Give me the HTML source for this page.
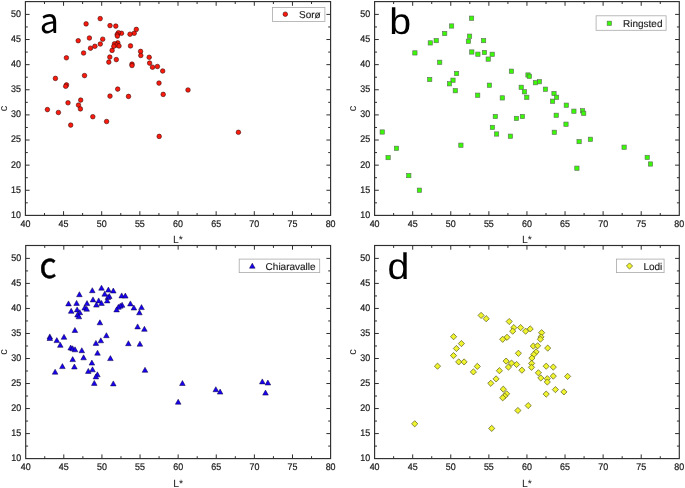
<!DOCTYPE html>
<html lang="en">
<head>
<meta charset="utf-8">
<title>L* versus c scatter plots: Sorø, Ringsted, Chiaravalle, Lodi</title>
<style>
html,body{margin:0;padding:0;background:#fff;}
body{width:685px;height:488px;overflow:hidden;}
svg{display:block;font-family:"Liberation Sans",sans-serif;will-change:transform;text-rendering:geometricPrecision;}
</style>
</head>
<body>
<svg width="685" height="488" viewBox="0 0 685 488">
<rect width="685" height="488" fill="#fff"/>
<rect x="25.4" y="1.6" width="305.2" height="213.8" fill="none" stroke="#2e2e2e" stroke-width="1.15"/>
<path d="M44.48 215.4v-2.4M44.48 1.6v2.4M63.55 215.4v-4.2M63.55 1.6v4.2M82.62 215.4v-2.4M82.62 1.6v2.4M101.7 215.4v-4.2M101.7 1.6v4.2M120.78 215.4v-2.4M120.78 1.6v2.4M139.85 215.4v-4.2M139.85 1.6v4.2M158.93 215.4v-2.4M158.93 1.6v2.4M178 215.4v-4.2M178 1.6v4.2M197.08 215.4v-2.4M197.08 1.6v2.4M216.15 215.4v-4.2M216.15 1.6v4.2M235.23 215.4v-2.4M235.23 1.6v2.4M254.3 215.4v-4.2M254.3 1.6v4.2M273.38 215.4v-2.4M273.38 1.6v2.4M292.45 215.4v-4.2M292.45 1.6v4.2M311.53 215.4v-2.4M311.53 1.6v2.4M25.4 202.84h2.4M330.6 202.84h-2.4M25.4 190.28h4.2M330.6 190.28h-4.2M25.4 177.71h2.4M330.6 177.71h-2.4M25.4 165.15h4.2M330.6 165.15h-4.2M25.4 152.59h2.4M330.6 152.59h-2.4M25.4 140.03h4.2M330.6 140.03h-4.2M25.4 127.46h2.4M330.6 127.46h-2.4M25.4 114.9h4.2M330.6 114.9h-4.2M25.4 102.34h2.4M330.6 102.34h-2.4M25.4 89.77h4.2M330.6 89.77h-4.2M25.4 77.21h2.4M330.6 77.21h-2.4M25.4 64.65h4.2M330.6 64.65h-4.2M25.4 52.09h2.4M330.6 52.09h-2.4M25.4 39.53h4.2M330.6 39.53h-4.2M25.4 26.96h2.4M330.6 26.96h-2.4M25.4 14.4h4.2M330.6 14.4h-4.2" stroke="#2e2e2e" stroke-width="1" fill="none"/>
<g font-size="9.6" fill="#1c1c1c" stroke="#1c1c1c" stroke-width="0.22">
<g text-anchor="middle">
<text transform="translate(25.4 227.2) scale(0.93 1)">40</text>
<text transform="translate(63.55 227.2) scale(0.93 1)">45</text>
<text transform="translate(101.7 227.2) scale(0.93 1)">50</text>
<text transform="translate(139.85 227.2) scale(0.93 1)">55</text>
<text transform="translate(178 227.2) scale(0.93 1)">60</text>
<text transform="translate(216.15 227.2) scale(0.93 1)">65</text>
<text transform="translate(254.3 227.2) scale(0.93 1)">70</text>
<text transform="translate(292.45 227.2) scale(0.93 1)">75</text>
<text transform="translate(330.6 227.2) scale(0.93 1)">80</text>
</g><g text-anchor="end">
<text transform="translate(20.9 217.8) scale(0.93 1)">10</text>
<text transform="translate(20.9 192.68) scale(0.93 1)">15</text>
<text transform="translate(20.9 167.55) scale(0.93 1)">20</text>
<text transform="translate(20.9 142.43) scale(0.93 1)">25</text>
<text transform="translate(20.9 117.3) scale(0.93 1)">30</text>
<text transform="translate(20.9 92.17) scale(0.93 1)">35</text>
<text transform="translate(20.9 67.05) scale(0.93 1)">40</text>
<text transform="translate(20.9 41.93) scale(0.93 1)">45</text>
<text transform="translate(20.9 16.8) scale(0.93 1)">50</text>
</g></g>
<text x="178" y="243.4" font-size="10.5" text-anchor="middle" fill="#1c1c1c">L*</text>
<text transform="translate(6.8 108.5) rotate(-90)" font-size="11" text-anchor="middle" fill="#1c1c1c">c</text>
<g fill="#fa1a0e" stroke="#330302" stroke-width="0.55"><circle cx="100.2" cy="18.6" r="2.3"/><circle cx="86.1" cy="23.9" r="2.3"/><circle cx="110" cy="25.6" r="2.3"/><circle cx="115.8" cy="26.1" r="2.3"/><circle cx="89.4" cy="38" r="2.3"/><circle cx="78.2" cy="40.7" r="2.3"/><circle cx="102.7" cy="39.2" r="2.3"/><circle cx="100.3" cy="44" r="2.3"/><circle cx="94.9" cy="46.3" r="2.3"/><circle cx="90.5" cy="48.2" r="2.3"/><circle cx="83.6" cy="53" r="2.3"/><circle cx="66.4" cy="57.8" r="2.3"/><circle cx="112.1" cy="50.4" r="2.3"/><circle cx="109.8" cy="57.1" r="2.3"/><circle cx="116.3" cy="59.6" r="2.3"/><circle cx="108.8" cy="62.1" r="2.3"/><circle cx="136.3" cy="29.4" r="2.3"/><circle cx="134.2" cy="33.3" r="2.3"/><circle cx="130" cy="34.2" r="2.3"/><circle cx="121.5" cy="33.3" r="2.3"/><circle cx="118.4" cy="32.7" r="2.3"/><circle cx="117.2" cy="34.6" r="2.3"/><circle cx="117.4" cy="36.1" r="2.3"/><circle cx="117.8" cy="42.9" r="2.3"/><circle cx="114.5" cy="43.8" r="2.3"/><circle cx="116.6" cy="45" r="2.3"/><circle cx="119" cy="46" r="2.3"/><circle cx="113.8" cy="46.3" r="2.3"/><circle cx="130.5" cy="45.9" r="2.3"/><circle cx="140.6" cy="51.4" r="2.3"/><circle cx="140.8" cy="55.5" r="2.3"/><circle cx="149.2" cy="57.3" r="2.3"/><circle cx="149.6" cy="63.1" r="2.3"/><circle cx="132" cy="64.1" r="2.3"/><circle cx="132" cy="65.5" r="2.3"/><circle cx="152.5" cy="67.2" r="2.3"/><circle cx="157.4" cy="66.5" r="2.3"/><circle cx="162.7" cy="71" r="2.3"/><circle cx="84.5" cy="75.6" r="2.3"/><circle cx="55.4" cy="78.4" r="2.3"/><circle cx="66.5" cy="84.9" r="2.3"/><circle cx="65.7" cy="86.3" r="2.3"/><circle cx="117.7" cy="89.1" r="2.3"/><circle cx="110" cy="96.1" r="2.3"/><circle cx="80.7" cy="100.1" r="2.3"/><circle cx="68" cy="102.8" r="2.3"/><circle cx="78.5" cy="105.1" r="2.3"/><circle cx="80.4" cy="108.9" r="2.3"/><circle cx="47.4" cy="109.6" r="2.3"/><circle cx="58.4" cy="112.5" r="2.3"/><circle cx="92.8" cy="116.7" r="2.3"/><circle cx="106.6" cy="121.5" r="2.3"/><circle cx="70.7" cy="125.1" r="2.3"/><circle cx="159" cy="83.1" r="2.3"/><circle cx="188" cy="90" r="2.3"/><circle cx="163.2" cy="94.4" r="2.3"/><circle cx="128.5" cy="96.4" r="2.3"/><circle cx="159.2" cy="136.4" r="2.3"/><circle cx="238.4" cy="132.3" r="2.3"/></g>
<rect x="272.4" y="7.4" width="52.5" height="14" fill="#fff" stroke="#a9a9a9" stroke-width="0.8"/>
<g fill="#fa1a0e" stroke="#330302" stroke-width="0.55"><circle cx="285.3" cy="14.2" r="2.3"/></g>
<text x="299" y="18.1" font-size="10" fill="#1c1c1c" stroke="#1c1c1c" stroke-width="0.15">Sorø</text>
<text x="39.7" y="33.4" font-size="34" font-family="'Noto Sans CJK SC','Liberation Sans',sans-serif" fill="#000">a</text>
<rect x="374.6" y="1.6" width="304.7" height="213.8" fill="none" stroke="#2e2e2e" stroke-width="1.15"/>
<path d="M393.64 215.4v-2.4M393.64 1.6v2.4M412.69 215.4v-4.2M412.69 1.6v4.2M431.73 215.4v-2.4M431.73 1.6v2.4M450.77 215.4v-4.2M450.77 1.6v4.2M469.82 215.4v-2.4M469.82 1.6v2.4M488.86 215.4v-4.2M488.86 1.6v4.2M507.91 215.4v-2.4M507.91 1.6v2.4M526.95 215.4v-4.2M526.95 1.6v4.2M545.99 215.4v-2.4M545.99 1.6v2.4M565.04 215.4v-4.2M565.04 1.6v4.2M584.08 215.4v-2.4M584.08 1.6v2.4M603.12 215.4v-4.2M603.12 1.6v4.2M622.17 215.4v-2.4M622.17 1.6v2.4M641.21 215.4v-4.2M641.21 1.6v4.2M660.26 215.4v-2.4M660.26 1.6v2.4M374.6 202.84h2.4M679.3 202.84h-2.4M374.6 190.28h4.2M679.3 190.28h-4.2M374.6 177.71h2.4M679.3 177.71h-2.4M374.6 165.15h4.2M679.3 165.15h-4.2M374.6 152.59h2.4M679.3 152.59h-2.4M374.6 140.03h4.2M679.3 140.03h-4.2M374.6 127.46h2.4M679.3 127.46h-2.4M374.6 114.9h4.2M679.3 114.9h-4.2M374.6 102.34h2.4M679.3 102.34h-2.4M374.6 89.77h4.2M679.3 89.77h-4.2M374.6 77.21h2.4M679.3 77.21h-2.4M374.6 64.65h4.2M679.3 64.65h-4.2M374.6 52.09h2.4M679.3 52.09h-2.4M374.6 39.53h4.2M679.3 39.53h-4.2M374.6 26.96h2.4M679.3 26.96h-2.4M374.6 14.4h4.2M679.3 14.4h-4.2" stroke="#2e2e2e" stroke-width="1" fill="none"/>
<g font-size="9.6" fill="#1c1c1c" stroke="#1c1c1c" stroke-width="0.22">
<g text-anchor="middle">
<text transform="translate(374.6 227.2) scale(0.93 1)">40</text>
<text transform="translate(412.69 227.2) scale(0.93 1)">45</text>
<text transform="translate(450.77 227.2) scale(0.93 1)">50</text>
<text transform="translate(488.86 227.2) scale(0.93 1)">55</text>
<text transform="translate(526.95 227.2) scale(0.93 1)">60</text>
<text transform="translate(565.04 227.2) scale(0.93 1)">65</text>
<text transform="translate(603.12 227.2) scale(0.93 1)">70</text>
<text transform="translate(641.21 227.2) scale(0.93 1)">75</text>
<text transform="translate(679.3 227.2) scale(0.93 1)">80</text>
</g><g text-anchor="end">
<text transform="translate(370.1 217.8) scale(0.93 1)">10</text>
<text transform="translate(370.1 192.68) scale(0.93 1)">15</text>
<text transform="translate(370.1 167.55) scale(0.93 1)">20</text>
<text transform="translate(370.1 142.43) scale(0.93 1)">25</text>
<text transform="translate(370.1 117.3) scale(0.93 1)">30</text>
<text transform="translate(370.1 92.17) scale(0.93 1)">35</text>
<text transform="translate(370.1 67.05) scale(0.93 1)">40</text>
<text transform="translate(370.1 41.93) scale(0.93 1)">45</text>
<text transform="translate(370.1 16.8) scale(0.93 1)">50</text>
</g></g>
<text x="526.95" y="243.4" font-size="10.5" text-anchor="middle" fill="#1c1c1c">L*</text>
<text transform="translate(356 108.5) rotate(-90)" font-size="11" text-anchor="middle" fill="#1c1c1c">c</text>
<g fill="#3af708" stroke="#5f6a5c" stroke-width="0.6"><rect x="449.45" y="23.85" width="4.3" height="4.3"/><rect x="442.55" y="31.35" width="4.3" height="4.3"/><rect x="434.05" y="38.45" width="4.3" height="4.3"/><rect x="428.15" y="40.75" width="4.3" height="4.3"/><rect x="412.75" y="50.75" width="4.3" height="4.3"/><rect x="437.55" y="60.15" width="4.3" height="4.3"/><rect x="469.45" y="16.05" width="4.3" height="4.3"/><rect x="467.45" y="34.05" width="4.3" height="4.3"/><rect x="466.25" y="39.15" width="4.3" height="4.3"/><rect x="481.45" y="38.45" width="4.3" height="4.3"/><rect x="469.65" y="49.85" width="4.3" height="4.3"/><rect x="475.75" y="52.05" width="4.3" height="4.3"/><rect x="482.25" y="50.35" width="4.3" height="4.3"/><rect x="490.05" y="52.15" width="4.3" height="4.3"/><rect x="486.05" y="56.95" width="4.3" height="4.3"/><rect x="454.45" y="71.35" width="4.3" height="4.3"/><rect x="450.85" y="78.05" width="4.3" height="4.3"/><rect x="509.25" y="69.05" width="4.3" height="4.3"/><rect x="525.85" y="72.85" width="4.3" height="4.3"/><rect x="527.25" y="74.15" width="4.3" height="4.3"/><rect x="537.25" y="79.55" width="4.3" height="4.3"/><rect x="427.55" y="77.35" width="4.3" height="4.3"/><rect x="447.35" y="81.65" width="4.3" height="4.3"/><rect x="453.15" y="88.55" width="4.3" height="4.3"/><rect x="380.05" y="129.85" width="4.3" height="4.3"/><rect x="394.35" y="146.15" width="4.3" height="4.3"/><rect x="385.95" y="155.45" width="4.3" height="4.3"/><rect x="458.75" y="143.05" width="4.3" height="4.3"/><rect x="406.65" y="173.45" width="4.3" height="4.3"/><rect x="417.25" y="188.05" width="4.3" height="4.3"/><rect x="533.25" y="80.55" width="4.3" height="4.3"/><rect x="487.25" y="83.05" width="4.3" height="4.3"/><rect x="519.05" y="85.15" width="4.3" height="4.3"/><rect x="522.25" y="89.65" width="4.3" height="4.3"/><rect x="543.25" y="87.05" width="4.3" height="4.3"/><rect x="551.85" y="91.35" width="4.3" height="4.3"/><rect x="554.45" y="95.15" width="4.3" height="4.3"/><rect x="550.45" y="99.05" width="4.3" height="4.3"/><rect x="475.55" y="93.05" width="4.3" height="4.3"/><rect x="500.15" y="95.75" width="4.3" height="4.3"/><rect x="524.65" y="95.15" width="4.3" height="4.3"/><rect x="564.15" y="103.05" width="4.3" height="4.3"/><rect x="493.15" y="114.35" width="4.3" height="4.3"/><rect x="514.25" y="116.25" width="4.3" height="4.3"/><rect x="520.25" y="114.35" width="4.3" height="4.3"/><rect x="554.05" y="113.15" width="4.3" height="4.3"/><rect x="563.85" y="122.05" width="4.3" height="4.3"/><rect x="490.25" y="125.25" width="4.3" height="4.3"/><rect x="494.45" y="131.85" width="4.3" height="4.3"/><rect x="508.25" y="134.05" width="4.3" height="4.3"/><rect x="552.15" y="130.15" width="4.3" height="4.3"/><rect x="571.75" y="109.05" width="4.3" height="4.3"/><rect x="580.35" y="108.65" width="4.3" height="4.3"/><rect x="581.55" y="111.15" width="4.3" height="4.3"/><rect x="576.95" y="139.45" width="4.3" height="4.3"/><rect x="588.25" y="137.15" width="4.3" height="4.3"/><rect x="621.95" y="145.05" width="4.3" height="4.3"/><rect x="645.05" y="155.25" width="4.3" height="4.3"/><rect x="648.35" y="161.85" width="4.3" height="4.3"/><rect x="574.75" y="166.05" width="4.3" height="4.3"/></g>
<rect x="596.1" y="15.8" width="70" height="14.5" fill="#fff" stroke="#a9a9a9" stroke-width="0.8"/>
<g fill="#3af708" stroke="#5f6a5c" stroke-width="0.6"><rect x="607.15" y="21.15" width="4.3" height="4.3"/></g>
<text x="623" y="27.2" font-size="10" fill="#1c1c1c" stroke="#1c1c1c" stroke-width="0.15">Ringsted</text>
<text transform="translate(389.3 34.4) scale(1.067 1)" font-size="36.8" fill="#000">b</text>
<rect x="25.7" y="245.5" width="304.9" height="213.1" fill="none" stroke="#2e2e2e" stroke-width="1.15"/>
<path d="M44.76 458.6v-2.4M44.76 245.5v2.4M63.81 458.6v-4.2M63.81 245.5v4.2M82.87 458.6v-2.4M82.87 245.5v2.4M101.93 458.6v-4.2M101.93 245.5v4.2M120.98 458.6v-2.4M120.98 245.5v2.4M140.04 458.6v-4.2M140.04 245.5v4.2M159.09 458.6v-2.4M159.09 245.5v2.4M178.15 458.6v-4.2M178.15 245.5v4.2M197.21 458.6v-2.4M197.21 245.5v2.4M216.26 458.6v-4.2M216.26 245.5v4.2M235.32 458.6v-2.4M235.32 245.5v2.4M254.38 458.6v-4.2M254.38 245.5v4.2M273.43 458.6v-2.4M273.43 245.5v2.4M292.49 458.6v-4.2M292.49 245.5v4.2M311.54 458.6v-2.4M311.54 245.5v2.4M25.7 446.09h2.4M330.6 446.09h-2.4M25.7 433.58h4.2M330.6 433.58h-4.2M25.7 421.06h2.4M330.6 421.06h-2.4M25.7 408.55h4.2M330.6 408.55h-4.2M25.7 396.04h2.4M330.6 396.04h-2.4M25.7 383.52h4.2M330.6 383.52h-4.2M25.7 371.01h2.4M330.6 371.01h-2.4M25.7 358.5h4.2M330.6 358.5h-4.2M25.7 345.99h2.4M330.6 345.99h-2.4M25.7 333.48h4.2M330.6 333.48h-4.2M25.7 320.96h2.4M330.6 320.96h-2.4M25.7 308.45h4.2M330.6 308.45h-4.2M25.7 295.94h2.4M330.6 295.94h-2.4M25.7 283.42h4.2M330.6 283.42h-4.2M25.7 270.91h2.4M330.6 270.91h-2.4M25.7 258.4h4.2M330.6 258.4h-4.2" stroke="#2e2e2e" stroke-width="1" fill="none"/>
<g font-size="9.6" fill="#1c1c1c" stroke="#1c1c1c" stroke-width="0.22">
<g text-anchor="middle">
<text transform="translate(25.7 470.4) scale(0.93 1)">40</text>
<text transform="translate(63.81 470.4) scale(0.93 1)">45</text>
<text transform="translate(101.93 470.4) scale(0.93 1)">50</text>
<text transform="translate(140.04 470.4) scale(0.93 1)">55</text>
<text transform="translate(178.15 470.4) scale(0.93 1)">60</text>
<text transform="translate(216.26 470.4) scale(0.93 1)">65</text>
<text transform="translate(254.38 470.4) scale(0.93 1)">70</text>
<text transform="translate(292.49 470.4) scale(0.93 1)">75</text>
<text transform="translate(330.6 470.4) scale(0.93 1)">80</text>
</g><g text-anchor="end">
<text transform="translate(21.2 461) scale(0.93 1)">10</text>
<text transform="translate(21.2 435.98) scale(0.93 1)">15</text>
<text transform="translate(21.2 410.95) scale(0.93 1)">20</text>
<text transform="translate(21.2 385.92) scale(0.93 1)">25</text>
<text transform="translate(21.2 360.9) scale(0.93 1)">30</text>
<text transform="translate(21.2 335.88) scale(0.93 1)">35</text>
<text transform="translate(21.2 310.85) scale(0.93 1)">40</text>
<text transform="translate(21.2 285.82) scale(0.93 1)">45</text>
<text transform="translate(21.2 260.8) scale(0.93 1)">50</text>
</g></g>
<text x="178.15" y="486.6" font-size="10.5" text-anchor="middle" fill="#1c1c1c">L*</text>
<text transform="translate(7.1 352.05) rotate(-90)" font-size="11" text-anchor="middle" fill="#1c1c1c">c</text>
<g fill="#1800f0" stroke="#08003c" stroke-width="0.5" stroke-linejoin="miter"><path d="M101.5 285.2L104.3 290.2H98.7Z"/><path d="M92.3 287.7L95.1 292.7H89.5Z"/><path d="M108.4 287.1L111.2 292.1H105.6Z"/><path d="M113.3 288L116.1 293H110.5Z"/><path d="M79.4 291.7L82.2 296.7H76.6Z"/><path d="M104.7 291.2L107.5 296.2H101.9Z"/><path d="M109.3 293.5L112.1 298.5H106.5Z"/><path d="M107.9 294.5L110.7 299.5H105.1Z"/><path d="M107.2 297.9L110 302.9H104.4Z"/><path d="M93 296.9L95.8 301.9H90.2Z"/><path d="M98.7 297.9L101.5 302.9H95.9Z"/><path d="M101.5 300.4L104.3 305.4H98.7Z"/><path d="M96.4 302.1L99.2 307.1H93.6Z"/><path d="M87 300.6L89.8 305.6H84.2Z"/><path d="M68.5 300.9L71.3 305.9H65.7Z"/><path d="M76.6 300.4L79.4 305.4H73.8Z"/><path d="M84.7 305L87.5 310H81.9Z"/><path d="M86.7 306.2L89.5 311.2H83.9Z"/><path d="M71.2 308.3L74 313.3H68.4Z"/><path d="M77.1 306.9L79.9 311.9H74.3Z"/><path d="M79.8 309.7L82.6 314.7H77Z"/><path d="M77.5 312L80.3 317H74.7Z"/><path d="M78.9 313.8L81.7 318.8H76.1Z"/><path d="M99.9 319.8L102.7 324.8H97.1Z"/><path d="M121.7 292.9L124.5 297.9H118.9Z"/><path d="M125.3 293.1L128.1 298.1H122.5Z"/><path d="M130.4 300.9L133.2 305.9H127.6Z"/><path d="M133.9 305L136.7 310H131.1Z"/><path d="M141.5 304.6L144.3 309.6H138.7Z"/><path d="M139.4 309.8L142.2 314.8H136.6Z"/><path d="M122.1 302.3L124.9 307.3H119.3Z"/><path d="M120.3 303.2L123.1 308.2H117.5Z"/><path d="M118.4 304.3L121.2 309.3H115.6Z"/><path d="M116.6 306.9L119.4 311.9H113.8Z"/><path d="M137.6 323.9L140.4 328.9H134.8Z"/><path d="M144.4 326.3L147.2 331.3H141.6Z"/><path d="M74.9 327.5L77.7 332.5H72.1Z"/><path d="M49.8 333.9L52.6 338.9H47Z"/><path d="M49.8 335.5L52.6 340.5H47Z"/><path d="M64 334.3L66.8 339.3H61.2Z"/><path d="M56.8 337.6L59.6 342.6H54Z"/><path d="M60.3 342.3L63.1 347.3H57.5Z"/><path d="M106.4 332.7L109.2 337.7H103.6Z"/><path d="M100.8 337.8L103.6 342.8H98Z"/><path d="M95.9 340.4L98.7 345.4H93.1Z"/><path d="M70.7 345L73.5 350H67.9Z"/><path d="M72.6 345.8L75.4 350.8H69.8Z"/><path d="M75 346.8L77.8 351.8H72.2Z"/><path d="M81.8 347.7L84.6 352.7H79Z"/><path d="M97.5 350.2L100.3 355.2H94.7Z"/><path d="M110.4 355.6L113.2 360.6H107.6Z"/><path d="M83.6 354.8L86.4 359.8H80.8Z"/><path d="M72.7 356.6L75.5 361.6H69.9Z"/><path d="M91.9 360.1L94.7 365.1H89.1Z"/><path d="M62.4 363.6L65.2 368.6H59.6Z"/><path d="M74.4 364L77.2 369H71.6Z"/><path d="M92.5 366.8L95.3 371.8H89.7Z"/><path d="M88.3 368.4L91.1 373.4H85.5Z"/><path d="M55.1 369.2L57.9 374.2H52.3Z"/><path d="M97.4 371.8L100.2 376.8H94.6Z"/><path d="M95.9 373.9L98.7 378.9H93.1Z"/><path d="M94.3 380.4L97.1 385.4H91.5Z"/><path d="M113.3 380.9L116.1 385.9H110.5Z"/><path d="M128.4 340.7L131.2 345.7H125.6Z"/><path d="M139.9 341.2L142.7 346.2H137.1Z"/><path d="M145 367.3L147.8 372.3H142.2Z"/><path d="M182.4 380.5L185.2 385.5H179.6Z"/><path d="M178.2 399.2L181 404.2H175.4Z"/><path d="M215.8 386.7L218.6 391.7H213Z"/><path d="M220.1 389.1L222.9 394.1H217.3Z"/><path d="M262.3 378.9L265.1 383.9H259.5Z"/><path d="M267.9 380L270.7 385H265.1Z"/><path d="M265.5 390.1L268.3 395.1H262.7Z"/></g>
<rect x="239.2" y="259.1" width="80.5" height="13.5" fill="#fff" stroke="#a9a9a9" stroke-width="0.8"/>
<g fill="#1800f0" stroke="#08003c" stroke-width="0.5" stroke-linejoin="miter"><path d="M252.3 263.2L255.1 268.2H249.5Z"/></g>
<text x="265.6" y="269.7" font-size="10" fill="#1c1c1c" stroke="#1c1c1c" stroke-width="0.15">Chiaravalle</text>
<text transform="translate(39.6 278.0) scale(0.95 1)" font-size="35" font-family="'Noto Sans CJK SC','Liberation Sans',sans-serif" fill="#000" stroke="#000" stroke-width="0.5">c</text>
<rect x="374.6" y="245.5" width="304.7" height="213.1" fill="none" stroke="#2e2e2e" stroke-width="1.15"/>
<path d="M393.64 458.6v-2.4M393.64 245.5v2.4M412.69 458.6v-4.2M412.69 245.5v4.2M431.73 458.6v-2.4M431.73 245.5v2.4M450.77 458.6v-4.2M450.77 245.5v4.2M469.82 458.6v-2.4M469.82 245.5v2.4M488.86 458.6v-4.2M488.86 245.5v4.2M507.91 458.6v-2.4M507.91 245.5v2.4M526.95 458.6v-4.2M526.95 245.5v4.2M545.99 458.6v-2.4M545.99 245.5v2.4M565.04 458.6v-4.2M565.04 245.5v4.2M584.08 458.6v-2.4M584.08 245.5v2.4M603.12 458.6v-4.2M603.12 245.5v4.2M622.17 458.6v-2.4M622.17 245.5v2.4M641.21 458.6v-4.2M641.21 245.5v4.2M660.26 458.6v-2.4M660.26 245.5v2.4M374.6 446.09h2.4M679.3 446.09h-2.4M374.6 433.58h4.2M679.3 433.58h-4.2M374.6 421.06h2.4M679.3 421.06h-2.4M374.6 408.55h4.2M679.3 408.55h-4.2M374.6 396.04h2.4M679.3 396.04h-2.4M374.6 383.52h4.2M679.3 383.52h-4.2M374.6 371.01h2.4M679.3 371.01h-2.4M374.6 358.5h4.2M679.3 358.5h-4.2M374.6 345.99h2.4M679.3 345.99h-2.4M374.6 333.48h4.2M679.3 333.48h-4.2M374.6 320.96h2.4M679.3 320.96h-2.4M374.6 308.45h4.2M679.3 308.45h-4.2M374.6 295.94h2.4M679.3 295.94h-2.4M374.6 283.42h4.2M679.3 283.42h-4.2M374.6 270.91h2.4M679.3 270.91h-2.4M374.6 258.4h4.2M679.3 258.4h-4.2" stroke="#2e2e2e" stroke-width="1" fill="none"/>
<g font-size="9.6" fill="#1c1c1c" stroke="#1c1c1c" stroke-width="0.22">
<g text-anchor="middle">
<text transform="translate(374.6 470.4) scale(0.93 1)">40</text>
<text transform="translate(412.69 470.4) scale(0.93 1)">45</text>
<text transform="translate(450.77 470.4) scale(0.93 1)">50</text>
<text transform="translate(488.86 470.4) scale(0.93 1)">55</text>
<text transform="translate(526.95 470.4) scale(0.93 1)">60</text>
<text transform="translate(565.04 470.4) scale(0.93 1)">65</text>
<text transform="translate(603.12 470.4) scale(0.93 1)">70</text>
<text transform="translate(641.21 470.4) scale(0.93 1)">75</text>
<text transform="translate(679.3 470.4) scale(0.93 1)">80</text>
</g><g text-anchor="end">
<text transform="translate(370.1 461) scale(0.93 1)">10</text>
<text transform="translate(370.1 435.98) scale(0.93 1)">15</text>
<text transform="translate(370.1 410.95) scale(0.93 1)">20</text>
<text transform="translate(370.1 385.92) scale(0.93 1)">25</text>
<text transform="translate(370.1 360.9) scale(0.93 1)">30</text>
<text transform="translate(370.1 335.88) scale(0.93 1)">35</text>
<text transform="translate(370.1 310.85) scale(0.93 1)">40</text>
<text transform="translate(370.1 285.82) scale(0.93 1)">45</text>
<text transform="translate(370.1 260.8) scale(0.93 1)">50</text>
</g></g>
<text x="526.95" y="486.6" font-size="10.5" text-anchor="middle" fill="#1c1c1c">L*</text>
<text transform="translate(356 352.05) rotate(-90)" font-size="11" text-anchor="middle" fill="#1c1c1c">c</text>
<g fill="#f0f42e" stroke="#4c4c12" stroke-width="0.65"><path d="M481.1 312.3l3.1 3.1l-3.1 3.1l-3.1 -3.1Z"/><path d="M486.2 315.6l3.1 3.1l-3.1 3.1l-3.1 -3.1Z"/><path d="M453.6 333.6l3.1 3.1l-3.1 3.1l-3.1 -3.1Z"/><path d="M461.4 340.5l3.1 3.1l-3.1 3.1l-3.1 -3.1Z"/><path d="M456.4 345.4l3.1 3.1l-3.1 3.1l-3.1 -3.1Z"/><path d="M453.5 352.5l3.1 3.1l-3.1 3.1l-3.1 -3.1Z"/><path d="M458.7 358.8l3.1 3.1l-3.1 3.1l-3.1 -3.1Z"/><path d="M464.1 358.8l3.1 3.1l-3.1 3.1l-3.1 -3.1Z"/><path d="M437.5 363.1l3.1 3.1l-3.1 3.1l-3.1 -3.1Z"/><path d="M477.3 363.3l3.1 3.1l-3.1 3.1l-3.1 -3.1Z"/><path d="M473.4 368.8l3.1 3.1l-3.1 3.1l-3.1 -3.1Z"/><path d="M499.4 367.6l3.1 3.1l-3.1 3.1l-3.1 -3.1Z"/><path d="M509.2 318.4l3.1 3.1l-3.1 3.1l-3.1 -3.1Z"/><path d="M513.8 324.5l3.1 3.1l-3.1 3.1l-3.1 -3.1Z"/><path d="M512.7 328.1l3.1 3.1l-3.1 3.1l-3.1 -3.1Z"/><path d="M520.6 324.5l3.1 3.1l-3.1 3.1l-3.1 -3.1Z"/><path d="M525.6 328.1l3.1 3.1l-3.1 3.1l-3.1 -3.1Z"/><path d="M530.2 325.8l3.1 3.1l-3.1 3.1l-3.1 -3.1Z"/><path d="M507 334.2l3.1 3.1l-3.1 3.1l-3.1 -3.1Z"/><path d="M502.7 336.2l3.1 3.1l-3.1 3.1l-3.1 -3.1Z"/><path d="M541.6 329.6l3.1 3.1l-3.1 3.1l-3.1 -3.1Z"/><path d="M541 333.8l3.1 3.1l-3.1 3.1l-3.1 -3.1Z"/><path d="M540.4 336.1l3.1 3.1l-3.1 3.1l-3.1 -3.1Z"/><path d="M533.3 343l3.1 3.1l-3.1 3.1l-3.1 -3.1Z"/><path d="M537.6 342.7l3.1 3.1l-3.1 3.1l-3.1 -3.1Z"/><path d="M547.7 345l3.1 3.1l-3.1 3.1l-3.1 -3.1Z"/><path d="M536.1 348.8l3.1 3.1l-3.1 3.1l-3.1 -3.1Z"/><path d="M533.8 351.4l3.1 3.1l-3.1 3.1l-3.1 -3.1Z"/><path d="M531.9 355l3.1 3.1l-3.1 3.1l-3.1 -3.1Z"/><path d="M518.4 350.2l3.1 3.1l-3.1 3.1l-3.1 -3.1Z"/><path d="M506.1 358l3.1 3.1l-3.1 3.1l-3.1 -3.1Z"/><path d="M511.5 360l3.1 3.1l-3.1 3.1l-3.1 -3.1Z"/><path d="M516.6 361.4l3.1 3.1l-3.1 3.1l-3.1 -3.1Z"/><path d="M508.4 364l3.1 3.1l-3.1 3.1l-3.1 -3.1Z"/><path d="M521.9 367.1l3.1 3.1l-3.1 3.1l-3.1 -3.1Z"/><path d="M531.6 360.3l3.1 3.1l-3.1 3.1l-3.1 -3.1Z"/><path d="M531.5 364.2l3.1 3.1l-3.1 3.1l-3.1 -3.1Z"/><path d="M546.2 363.1l3.1 3.1l-3.1 3.1l-3.1 -3.1Z"/><path d="M553.3 364l3.1 3.1l-3.1 3.1l-3.1 -3.1Z"/><path d="M538.4 369.7l3.1 3.1l-3.1 3.1l-3.1 -3.1Z"/><path d="M540.8 374.9l3.1 3.1l-3.1 3.1l-3.1 -3.1Z"/><path d="M547.3 375.6l3.1 3.1l-3.1 3.1l-3.1 -3.1Z"/><path d="M547.3 378.9l3.1 3.1l-3.1 3.1l-3.1 -3.1Z"/><path d="M553.3 373l3.1 3.1l-3.1 3.1l-3.1 -3.1Z"/><path d="M567.6 373.3l3.1 3.1l-3.1 3.1l-3.1 -3.1Z"/><path d="M496.1 375.8l3.1 3.1l-3.1 3.1l-3.1 -3.1Z"/><path d="M490.8 380.2l3.1 3.1l-3.1 3.1l-3.1 -3.1Z"/><path d="M503.3 386.1l3.1 3.1l-3.1 3.1l-3.1 -3.1Z"/><path d="M506.6 390.7l3.1 3.1l-3.1 3.1l-3.1 -3.1Z"/><path d="M504.6 393l3.1 3.1l-3.1 3.1l-3.1 -3.1Z"/><path d="M502.7 394.7l3.1 3.1l-3.1 3.1l-3.1 -3.1Z"/><path d="M555.4 386.5l3.1 3.1l-3.1 3.1l-3.1 -3.1Z"/><path d="M563.9 388.8l3.1 3.1l-3.1 3.1l-3.1 -3.1Z"/><path d="M546.2 391l3.1 3.1l-3.1 3.1l-3.1 -3.1Z"/><path d="M528.2 402.5l3.1 3.1l-3.1 3.1l-3.1 -3.1Z"/><path d="M517.9 407.4l3.1 3.1l-3.1 3.1l-3.1 -3.1Z"/><path d="M491.7 425.3l3.1 3.1l-3.1 3.1l-3.1 -3.1Z"/><path d="M414.7 420.7l3.1 3.1l-3.1 3.1l-3.1 -3.1Z"/></g>
<rect x="616.5" y="259.1" width="47.6" height="13.5" fill="#fff" stroke="#a9a9a9" stroke-width="0.8"/>
<g fill="#f0f42e" stroke="#4c4c12" stroke-width="0.65"><path d="M629.5 262.9l3.1 3.1l-3.1 3.1l-3.1 -3.1Z"/></g>
<text x="643.4" y="269.9" font-size="10" fill="#1c1c1c" stroke="#1c1c1c" stroke-width="0.15">Lodi</text>
<text transform="translate(387.6 279.1) scale(1.067 1)" font-size="36.8" fill="#000">d</text>
</svg>
</body>
</html>
